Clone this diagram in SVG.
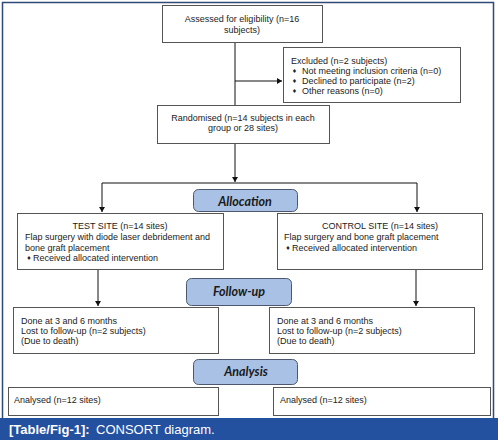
<svg xmlns="http://www.w3.org/2000/svg" width="498" height="444" viewBox="0 0 498 444">
<style>
.box{fill:#fff;stroke:#555;stroke-width:1}
.pill{fill:#a9c1e5;stroke:#4b5870;stroke-width:1}
.t{font-family:"Liberation Sans",Arial,sans-serif;font-size:9px;fill:#222}
.b{font-family:"DejaVu Sans",sans-serif;font-size:5.5px;fill:#222}
.c{text-anchor:middle}
.p{font-family:Lato,"Liberation Sans",sans-serif;font-size:12.5px;font-weight:bold;font-style:italic;fill:#1a1a1a;text-anchor:middle}
.ln{fill:none;stroke:#111;stroke-width:1}
.cap{font-family:"Liberation Sans",Arial,sans-serif;font-size:13px;fill:#fff}
</style>
<defs>
<marker id="ah" markerWidth="6" markerHeight="6" refX="5" refY="3" orient="auto" markerUnits="userSpaceOnUse">
<path d="M0,0 L5,3 L0,6 z" fill="#111"/>
</marker>
</defs>
<rect x="0" y="0" width="498" height="444" fill="#fff"/>
<path d="M2.5,418 V2.5 H493.5 V418" fill="none" stroke="#2e4a78" stroke-width="1.5"/>
<rect x="0" y="418" width="498" height="22" fill="#23509f"/>
<text x="9" y="433.5" class="cap"><tspan font-weight="bold">[Table/Fig-1]:</tspan><tspan x="96">CONSORT diagram.</tspan></text>

<g id="connectors">
<path class="ln" d="M235,42 V105"/>
<path class="ln" d="M235,81 H282" marker-end="url(#ah)"/>
<path class="ln" d="M235,143 V182" marker-end="url(#ah)"/>
<path class="ln" d="M102,183 H417"/>
<path class="ln" d="M102,183 V212" marker-end="url(#ah)"/>
<path class="ln" d="M417,183 V212" marker-end="url(#ah)"/>
<path class="ln" d="M98,269 V306" marker-end="url(#ah)"/>
<path class="ln" d="M416,269 V306" marker-end="url(#ah)"/>
</g>

<g id="assessed">
<rect class="box" x="162.5" y="5.5" width="160" height="37"/>
<text class="t c" x="242" y="22">Assessed for eligibility (n=16</text>
<text class="t c" x="242" y="33">subjects)</text>
</g>

<g id="excluded">
<rect class="box" x="283.5" y="47.5" width="177" height="55"/>
<text class="t" x="291" y="64">Excluded (n=2 subjects)</text>
<text class="b" x="292" y="73">♦</text><text class="t" x="302" y="74">Not meeting inclusion criteria (n=0)</text>
<text class="b" x="292" y="83">♦</text><text class="t" x="302" y="84">Declined to participate (n=2)</text>
<text class="b" x="292" y="93">♦</text><text class="t" x="302" y="94">Other reasons (n=0)</text>
</g>

<g id="randomised">
<rect class="box" x="157.5" y="105.5" width="172" height="38"/>
<text class="t c" x="243" y="121">Randomised (n=14 subjects in each</text>
<text class="t c" x="243" y="131">group or 28 sites)</text>
</g>

<g id="allocation">
<rect class="pill" x="193.5" y="189.5" width="104" height="22" rx="5"/>
<text class="p" x="245" y="205.5">Allocation</text>
</g>

<g id="test-site">
<rect class="box" x="17.5" y="213.5" width="206" height="56"/>
<text class="t c" x="120" y="229">TEST SITE (n=14 sites)</text>
<text class="t" x="25" y="240">Flap surgery with diode laser debridement and</text>
<text class="t" x="25" y="250.5">bone graft placement</text>
<text class="b" x="26.5" y="260">♦</text><text class="t" x="33" y="261">Received allocated intervention</text>
</g>

<g id="control-site">
<rect class="box" x="277.5" y="213.5" width="205" height="56"/>
<text class="t c" x="380" y="229">CONTROL SITE (n=14 sites)</text>
<text class="t" x="284" y="239.5">Flap surgery and bone graft placement</text>
<text class="b" x="285.5" y="249.5">♦</text><text class="t" x="292" y="250.5">Received allocated intervention</text>
</g>

<g id="follow-up">
<rect class="pill" x="186.5" y="278.5" width="105" height="27" rx="5"/>
<text class="p" x="239" y="296">Follow-up</text>
</g>

<g id="follow-left">
<rect class="box" x="13.5" y="307.5" width="205" height="46"/>
<text class="t" x="21" y="323.5">Done at 3 and 6 months</text>
<text class="t" x="21" y="333.5">Lost to follow-up (n=2 subjects)</text>
<text class="t" x="21" y="344">(Due to death)</text>
</g>

<g id="follow-right">
<rect class="box" x="269.5" y="307.5" width="205" height="46"/>
<text class="t" x="277" y="323.5">Done at 3 and 6 months</text>
<text class="t" x="277" y="333.5">Lost to follow-up (n=2 subjects)</text>
<text class="t" x="277" y="344">(Due to death)</text>
</g>

<g id="analysis">
<rect class="pill" x="193.5" y="359.5" width="104" height="25" rx="5"/>
<text class="p" x="246" y="376">Analysis</text>
</g>

<g id="analysed-left">
<rect class="box" x="8.5" y="387.5" width="210" height="28"/>
<text class="t" x="14" y="403">Analysed (n=12 sites)</text>
</g>

<g id="analysed-right">
<rect class="box" x="273.5" y="387.5" width="217" height="28"/>
<text class="t" x="280" y="403">Analysed (n=12 sites)</text>
</g>
</svg>
